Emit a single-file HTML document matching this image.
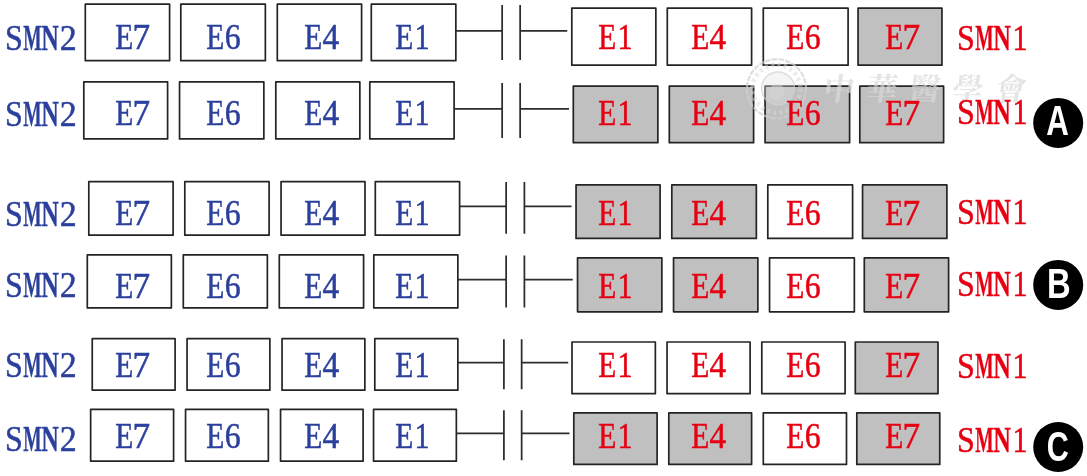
<!DOCTYPE html>
<html lang="zh">
<head>
<meta charset="utf-8">
<title>SMN1 / SMN2</title>
<style>
html,body{margin:0;padding:0;background:#fff;}
body{width:1087px;height:476px;overflow:hidden;}
svg{display:block;will-change:transform;}
.t{font-family:"Liberation Serif","Noto Serif CJK SC",serif;font-size:35.4px;}
.c{font-family:"Liberation Sans","Noto Sans CJK SC",sans-serif;font-weight:bold;font-size:42px;fill:#fff;}
.wm{font-family:"Noto Serif CJK TC","Noto Serif CJK SC","Liberation Serif",serif;font-weight:700;}
</style>
</head>
<body>
<svg width="1087" height="476" viewBox="0 0 1087 476">
<rect x="0" y="0" width="1087" height="476" fill="#fff"/>
<g><!-- row 1 boxes -->
<rect x="85.30" y="4.20" width="84.30" height="56.50" fill="#fff" stroke="#242424" stroke-width="1.7" stroke-linejoin="round"/>
<rect x="180.80" y="4.20" width="84.55" height="56.50" fill="#fff" stroke="#242424" stroke-width="1.7" stroke-linejoin="round"/>
<rect x="277.30" y="4.20" width="84.30" height="56.50" fill="#fff" stroke="#242424" stroke-width="1.7" stroke-linejoin="round"/>
<rect x="371.30" y="4.20" width="84.55" height="56.50" fill="#fff" stroke="#242424" stroke-width="1.7" stroke-linejoin="round"/>
<rect x="571.80" y="8.20" width="84.05" height="57.00" fill="#fff" stroke="#242424" stroke-width="1.7" stroke-linejoin="round"/>
<rect x="667.30" y="8.20" width="84.30" height="57.00" fill="#fff" stroke="#242424" stroke-width="1.7" stroke-linejoin="round"/>
<rect x="763.30" y="8.20" width="84.80" height="57.00" fill="#fff" stroke="#242424" stroke-width="1.7" stroke-linejoin="round"/>
<rect x="858.05" y="8.20" width="83.90" height="57.00" fill="#c0c0c0" stroke="#242424" stroke-width="1.7" stroke-linejoin="round"/>
<path d="M455.85 30.80H502.15M502.15 5V60M520.15 5V60M520.15 30.80H567.25" fill="none" stroke="#2c2c2c" stroke-width="1.75"/>
</g>
<g><!-- row 2 boxes -->
<rect x="83.80" y="81.95" width="83.80" height="57.00" fill="#fff" stroke="#242424" stroke-width="1.7" stroke-linejoin="round"/>
<rect x="179.55" y="81.95" width="84.30" height="57.00" fill="#fff" stroke="#242424" stroke-width="1.7" stroke-linejoin="round"/>
<rect x="275.80" y="81.95" width="84.05" height="57.00" fill="#fff" stroke="#242424" stroke-width="1.7" stroke-linejoin="round"/>
<rect x="369.80" y="81.95" width="84.30" height="57.00" fill="#fff" stroke="#242424" stroke-width="1.7" stroke-linejoin="round"/>
<rect x="573.30" y="86.20" width="84.55" height="56.50" fill="#c0c0c0" stroke="#242424" stroke-width="1.7" stroke-linejoin="round"/>
<rect x="669.30" y="86.20" width="84.30" height="56.50" fill="#c0c0c0" stroke="#242424" stroke-width="1.7" stroke-linejoin="round"/>
<rect x="765.05" y="86.20" width="84.55" height="56.50" fill="#c0c0c0" stroke="#242424" stroke-width="1.7" stroke-linejoin="round"/>
<rect x="859.80" y="86.20" width="83.80" height="56.50" fill="#c0c0c0" stroke="#242424" stroke-width="1.7" stroke-linejoin="round"/>
<path d="M454.10 108.80H502.15M502.15 83V138M520.15 83V138M520.15 108.80H569" fill="none" stroke="#2c2c2c" stroke-width="1.75"/>
</g>
<g><!-- row 3 boxes -->
<rect x="88.80" y="181.70" width="84.30" height="53.50" fill="#fff" stroke="#242424" stroke-width="1.7" stroke-linejoin="round"/>
<rect x="184.80" y="181.70" width="84.30" height="53.50" fill="#fff" stroke="#242424" stroke-width="1.7" stroke-linejoin="round"/>
<rect x="281.05" y="181.70" width="83.95" height="53.50" fill="#fff" stroke="#242424" stroke-width="1.7" stroke-linejoin="round"/>
<rect x="375.30" y="181.70" width="84.30" height="53.50" fill="#fff" stroke="#242424" stroke-width="1.7" stroke-linejoin="round"/>
<rect x="576.05" y="184.95" width="84.05" height="53.50" fill="#c0c0c0" stroke="#242424" stroke-width="1.7" stroke-linejoin="round"/>
<rect x="671.80" y="184.95" width="84.55" height="53.50" fill="#c0c0c0" stroke="#242424" stroke-width="1.7" stroke-linejoin="round"/>
<rect x="767.80" y="184.95" width="84.80" height="53.50" fill="#fff" stroke="#242424" stroke-width="1.7" stroke-linejoin="round"/>
<rect x="862.55" y="184.95" width="84.35" height="53.50" fill="#c0c0c0" stroke="#242424" stroke-width="1.7" stroke-linejoin="round"/>
<path d="M459.60 206.45H506.15M506.15 182V233.75M524.40 182V233.75M524.40 206.45H571.5" fill="none" stroke="#2c2c2c" stroke-width="1.75"/>
</g>
<g><!-- row 4 boxes -->
<rect x="87.30" y="254.95" width="84.05" height="53.00" fill="#fff" stroke="#242424" stroke-width="1.7" stroke-linejoin="round"/>
<rect x="183.30" y="254.95" width="84.05" height="53.00" fill="#fff" stroke="#242424" stroke-width="1.7" stroke-linejoin="round"/>
<rect x="279.30" y="254.95" width="84.30" height="53.00" fill="#fff" stroke="#242424" stroke-width="1.7" stroke-linejoin="round"/>
<rect x="373.80" y="254.95" width="84.05" height="53.00" fill="#fff" stroke="#242424" stroke-width="1.7" stroke-linejoin="round"/>
<rect x="577.55" y="257.95" width="84.30" height="53.85" fill="#c0c0c0" stroke="#242424" stroke-width="1.7" stroke-linejoin="round"/>
<rect x="673.55" y="257.95" width="84.30" height="53.85" fill="#c0c0c0" stroke="#242424" stroke-width="1.7" stroke-linejoin="round"/>
<rect x="769.55" y="257.95" width="84.80" height="53.85" fill="#fff" stroke="#242424" stroke-width="1.7" stroke-linejoin="round"/>
<rect x="864.30" y="257.95" width="84.30" height="53.85" fill="#c0c0c0" stroke="#242424" stroke-width="1.7" stroke-linejoin="round"/>
<path d="M457.85 279.55H506.15M506.15 255.5V307.5M524.40 255.5V307.5M524.40 279.55H572.75" fill="none" stroke="#2c2c2c" stroke-width="1.75"/>
</g>
<g><!-- row 5 boxes -->
<rect x="92.25" y="338.70" width="82.85" height="51.50" fill="#fff" stroke="#242424" stroke-width="1.7" stroke-linejoin="round"/>
<rect x="187.05" y="338.70" width="82.80" height="51.50" fill="#fff" stroke="#242424" stroke-width="1.7" stroke-linejoin="round"/>
<rect x="282.05" y="338.70" width="82.80" height="51.50" fill="#fff" stroke="#242424" stroke-width="1.7" stroke-linejoin="round"/>
<rect x="374.80" y="338.70" width="83.05" height="51.50" fill="#fff" stroke="#242424" stroke-width="1.7" stroke-linejoin="round"/>
<rect x="572.00" y="342.00" width="83.35" height="51.70" fill="#fff" stroke="#242424" stroke-width="1.7" stroke-linejoin="round"/>
<rect x="667.05" y="342.00" width="83.05" height="51.70" fill="#fff" stroke="#242424" stroke-width="1.7" stroke-linejoin="round"/>
<rect x="761.80" y="342.00" width="83.30" height="51.70" fill="#fff" stroke="#242424" stroke-width="1.7" stroke-linejoin="round"/>
<rect x="855.30" y="342.00" width="82.70" height="51.70" fill="#c0c0c0" stroke="#242424" stroke-width="1.7" stroke-linejoin="round"/>
<path d="M457.85 362.60H503.90M503.90 339.25V389.25M521.65 339.25V389.25M521.65 362.60H568.25" fill="none" stroke="#2c2c2c" stroke-width="1.75"/>
</g>
<g><!-- row 6 boxes -->
<rect x="90.65" y="409.45" width="82.95" height="51.75" fill="#fff" stroke="#242424" stroke-width="1.7" stroke-linejoin="round"/>
<rect x="185.55" y="409.45" width="82.80" height="51.75" fill="#fff" stroke="#242424" stroke-width="1.7" stroke-linejoin="round"/>
<rect x="280.55" y="409.45" width="82.55" height="51.75" fill="#fff" stroke="#242424" stroke-width="1.7" stroke-linejoin="round"/>
<rect x="373.55" y="409.45" width="82.80" height="51.75" fill="#fff" stroke="#242424" stroke-width="1.7" stroke-linejoin="round"/>
<rect x="573.80" y="412.95" width="83.30" height="51.50" fill="#c0c0c0" stroke="#242424" stroke-width="1.7" stroke-linejoin="round"/>
<rect x="668.80" y="412.95" width="82.80" height="51.50" fill="#c0c0c0" stroke="#242424" stroke-width="1.7" stroke-linejoin="round"/>
<rect x="763.30" y="412.95" width="83.20" height="51.50" fill="#fff" stroke="#242424" stroke-width="1.7" stroke-linejoin="round"/>
<rect x="856.80" y="412.95" width="82.95" height="51.50" fill="#c0c0c0" stroke="#242424" stroke-width="1.7" stroke-linejoin="round"/>
<path d="M456.35 433.45H503.90M503.90 410.25V460.25M521.65 410.25V460.25M521.65 433.45H569.5" fill="none" stroke="#2c2c2c" stroke-width="1.75"/>
</g>
<g class="wm" fill="#dadada" fill-opacity="0.7">
<circle cx="776.5" cy="88.7" r="29.5" fill="none" stroke="#d0d0d0" stroke-opacity="0.7" stroke-width="2.2" stroke-dasharray="5.5 1.2"/>
<circle cx="776.5" cy="88.7" r="24" fill="none" stroke="#d8d8d8" stroke-opacity="0.5" stroke-width="4.5" stroke-dasharray="3 3.3"/>
<circle cx="778" cy="88.5" r="16.5" fill="#e2e2e2" fill-opacity="0.35" stroke="#d0d0d0" stroke-opacity="0.7" stroke-width="1.3"/>
<circle cx="777" cy="92" r="8" fill="#d6d6d6" fill-opacity="0.5"/>
<text x="823" y="100.5" transform="translate(13.2 0) skewX(-8)" letter-spacing="12" font-size="31">中華醫學會</text>
</g>
<g class="t"><!-- row 1 labels -->
<text y="50.00" fill="#2b409c" stroke="#2b409c" stroke-width="0.5"><tspan x="4.90" textLength="17.83" lengthAdjust="spacingAndGlyphs">S</tspan><tspan x="23.22" textLength="18.39" lengthAdjust="spacingAndGlyphs" font-weight="bold" stroke-width="0.3">M</tspan><tspan x="41.19" textLength="17.58" lengthAdjust="spacingAndGlyphs" font-weight="bold" stroke-width="0.3">N</tspan><tspan x="59.76" textLength="16.96" lengthAdjust="spacingAndGlyphs">2</tspan></text>
<text y="49.00" fill="#2b409c" stroke="#2b409c" stroke-width="0.5"><tspan x="115.30" textLength="18.02" lengthAdjust="spacingAndGlyphs">E</tspan><tspan x="132.42" textLength="17.64" lengthAdjust="spacingAndGlyphs">7</tspan></text>
<text y="49.00" fill="#2b409c" stroke="#2b409c" stroke-width="0.5"><tspan x="206.30" textLength="18.02" lengthAdjust="spacingAndGlyphs">E</tspan><tspan x="224.78" textLength="15.92" lengthAdjust="spacingAndGlyphs">6</tspan></text>
<text y="49.00" fill="#2b409c" stroke="#2b409c" stroke-width="0.5"><tspan x="304.30" textLength="18.02" lengthAdjust="spacingAndGlyphs">E</tspan><tspan x="322.50" textLength="16.67" lengthAdjust="spacingAndGlyphs">4</tspan></text>
<text y="49.00" fill="#2b409c" stroke="#2b409c" stroke-width="0.5"><tspan x="395.30" textLength="18.02" lengthAdjust="spacingAndGlyphs">E</tspan><tspan x="414.60" textLength="15.05" lengthAdjust="spacingAndGlyphs">1</tspan></text>
<text y="49.00" fill="#e60012" stroke="#e60012" stroke-width="0.5"><tspan x="598.30" textLength="18.02" lengthAdjust="spacingAndGlyphs">E</tspan><tspan x="617.60" textLength="15.05" lengthAdjust="spacingAndGlyphs">1</tspan></text>
<text y="49.00" fill="#e60012" stroke="#e60012" stroke-width="0.5"><tspan x="691.30" textLength="18.02" lengthAdjust="spacingAndGlyphs">E</tspan><tspan x="709.50" textLength="16.67" lengthAdjust="spacingAndGlyphs">4</tspan></text>
<text y="49.00" fill="#e60012" stroke="#e60012" stroke-width="0.5"><tspan x="786.30" textLength="18.02" lengthAdjust="spacingAndGlyphs">E</tspan><tspan x="804.78" textLength="15.92" lengthAdjust="spacingAndGlyphs">6</tspan></text>
<text y="49.00" fill="#e60012" stroke="#e60012" stroke-width="0.5"><tspan x="885.30" textLength="18.02" lengthAdjust="spacingAndGlyphs">E</tspan><tspan x="902.42" textLength="17.64" lengthAdjust="spacingAndGlyphs">7</tspan></text>
<text y="50.00" fill="#e60012" stroke="#e60012" stroke-width="0.5"><tspan x="956.90" textLength="17.83" lengthAdjust="spacingAndGlyphs">S</tspan><tspan x="975.22" textLength="18.39" lengthAdjust="spacingAndGlyphs" font-weight="bold" stroke-width="0.3">M</tspan><tspan x="993.19" textLength="17.58" lengthAdjust="spacingAndGlyphs" font-weight="bold" stroke-width="0.3">N</tspan><tspan x="1012.60" textLength="15.05" lengthAdjust="spacingAndGlyphs">1</tspan></text>
</g>
<g class="t"><!-- row 2 labels -->
<text y="126.00" fill="#2b409c" stroke="#2b409c" stroke-width="0.5"><tspan x="4.90" textLength="17.83" lengthAdjust="spacingAndGlyphs">S</tspan><tspan x="23.22" textLength="18.39" lengthAdjust="spacingAndGlyphs" font-weight="bold" stroke-width="0.3">M</tspan><tspan x="41.19" textLength="17.58" lengthAdjust="spacingAndGlyphs" font-weight="bold" stroke-width="0.3">N</tspan><tspan x="59.76" textLength="16.96" lengthAdjust="spacingAndGlyphs">2</tspan></text>
<text y="125.00" fill="#2b409c" stroke="#2b409c" stroke-width="0.5"><tspan x="115.30" textLength="18.02" lengthAdjust="spacingAndGlyphs">E</tspan><tspan x="132.42" textLength="17.64" lengthAdjust="spacingAndGlyphs">7</tspan></text>
<text y="125.00" fill="#2b409c" stroke="#2b409c" stroke-width="0.5"><tspan x="206.30" textLength="18.02" lengthAdjust="spacingAndGlyphs">E</tspan><tspan x="224.78" textLength="15.92" lengthAdjust="spacingAndGlyphs">6</tspan></text>
<text y="125.00" fill="#2b409c" stroke="#2b409c" stroke-width="0.5"><tspan x="304.30" textLength="18.02" lengthAdjust="spacingAndGlyphs">E</tspan><tspan x="322.50" textLength="16.67" lengthAdjust="spacingAndGlyphs">4</tspan></text>
<text y="125.00" fill="#2b409c" stroke="#2b409c" stroke-width="0.5"><tspan x="395.30" textLength="18.02" lengthAdjust="spacingAndGlyphs">E</tspan><tspan x="414.60" textLength="15.05" lengthAdjust="spacingAndGlyphs">1</tspan></text>
<text y="125.00" fill="#e60012" stroke="#e60012" stroke-width="0.5"><tspan x="598.30" textLength="18.02" lengthAdjust="spacingAndGlyphs">E</tspan><tspan x="617.60" textLength="15.05" lengthAdjust="spacingAndGlyphs">1</tspan></text>
<text y="125.00" fill="#e60012" stroke="#e60012" stroke-width="0.5"><tspan x="691.30" textLength="18.02" lengthAdjust="spacingAndGlyphs">E</tspan><tspan x="709.50" textLength="16.67" lengthAdjust="spacingAndGlyphs">4</tspan></text>
<text y="125.00" fill="#e60012" stroke="#e60012" stroke-width="0.5"><tspan x="786.30" textLength="18.02" lengthAdjust="spacingAndGlyphs">E</tspan><tspan x="804.78" textLength="15.92" lengthAdjust="spacingAndGlyphs">6</tspan></text>
<text y="125.00" fill="#e60012" stroke="#e60012" stroke-width="0.5"><tspan x="885.30" textLength="18.02" lengthAdjust="spacingAndGlyphs">E</tspan><tspan x="902.42" textLength="17.64" lengthAdjust="spacingAndGlyphs">7</tspan></text>
<text y="124.00" fill="#e60012" stroke="#e60012" stroke-width="0.5"><tspan x="956.90" textLength="17.83" lengthAdjust="spacingAndGlyphs">S</tspan><tspan x="975.22" textLength="18.39" lengthAdjust="spacingAndGlyphs" font-weight="bold" stroke-width="0.3">M</tspan><tspan x="993.19" textLength="17.58" lengthAdjust="spacingAndGlyphs" font-weight="bold" stroke-width="0.3">N</tspan><tspan x="1012.60" textLength="15.05" lengthAdjust="spacingAndGlyphs">1</tspan></text>
</g>
<g class="t"><!-- row 3 labels -->
<text y="226.00" fill="#2b409c" stroke="#2b409c" stroke-width="0.5"><tspan x="4.90" textLength="17.83" lengthAdjust="spacingAndGlyphs">S</tspan><tspan x="23.22" textLength="18.39" lengthAdjust="spacingAndGlyphs" font-weight="bold" stroke-width="0.3">M</tspan><tspan x="41.19" textLength="17.58" lengthAdjust="spacingAndGlyphs" font-weight="bold" stroke-width="0.3">N</tspan><tspan x="59.76" textLength="16.96" lengthAdjust="spacingAndGlyphs">2</tspan></text>
<text y="225.00" fill="#2b409c" stroke="#2b409c" stroke-width="0.5"><tspan x="115.30" textLength="18.02" lengthAdjust="spacingAndGlyphs">E</tspan><tspan x="132.42" textLength="17.64" lengthAdjust="spacingAndGlyphs">7</tspan></text>
<text y="225.00" fill="#2b409c" stroke="#2b409c" stroke-width="0.5"><tspan x="206.30" textLength="18.02" lengthAdjust="spacingAndGlyphs">E</tspan><tspan x="224.78" textLength="15.92" lengthAdjust="spacingAndGlyphs">6</tspan></text>
<text y="225.00" fill="#2b409c" stroke="#2b409c" stroke-width="0.5"><tspan x="304.30" textLength="18.02" lengthAdjust="spacingAndGlyphs">E</tspan><tspan x="322.50" textLength="16.67" lengthAdjust="spacingAndGlyphs">4</tspan></text>
<text y="225.00" fill="#2b409c" stroke="#2b409c" stroke-width="0.5"><tspan x="395.30" textLength="18.02" lengthAdjust="spacingAndGlyphs">E</tspan><tspan x="414.60" textLength="15.05" lengthAdjust="spacingAndGlyphs">1</tspan></text>
<text y="225.00" fill="#e60012" stroke="#e60012" stroke-width="0.5"><tspan x="598.30" textLength="18.02" lengthAdjust="spacingAndGlyphs">E</tspan><tspan x="617.60" textLength="15.05" lengthAdjust="spacingAndGlyphs">1</tspan></text>
<text y="225.00" fill="#e60012" stroke="#e60012" stroke-width="0.5"><tspan x="691.30" textLength="18.02" lengthAdjust="spacingAndGlyphs">E</tspan><tspan x="709.50" textLength="16.67" lengthAdjust="spacingAndGlyphs">4</tspan></text>
<text y="225.00" fill="#e60012" stroke="#e60012" stroke-width="0.5"><tspan x="786.30" textLength="18.02" lengthAdjust="spacingAndGlyphs">E</tspan><tspan x="804.78" textLength="15.92" lengthAdjust="spacingAndGlyphs">6</tspan></text>
<text y="225.00" fill="#e60012" stroke="#e60012" stroke-width="0.5"><tspan x="885.30" textLength="18.02" lengthAdjust="spacingAndGlyphs">E</tspan><tspan x="902.42" textLength="17.64" lengthAdjust="spacingAndGlyphs">7</tspan></text>
<text y="224.00" fill="#e60012" stroke="#e60012" stroke-width="0.5"><tspan x="956.90" textLength="17.83" lengthAdjust="spacingAndGlyphs">S</tspan><tspan x="975.22" textLength="18.39" lengthAdjust="spacingAndGlyphs" font-weight="bold" stroke-width="0.3">M</tspan><tspan x="993.19" textLength="17.58" lengthAdjust="spacingAndGlyphs" font-weight="bold" stroke-width="0.3">N</tspan><tspan x="1012.60" textLength="15.05" lengthAdjust="spacingAndGlyphs">1</tspan></text>
</g>
<g class="t"><!-- row 4 labels -->
<text y="297.00" fill="#2b409c" stroke="#2b409c" stroke-width="0.5"><tspan x="4.90" textLength="17.83" lengthAdjust="spacingAndGlyphs">S</tspan><tspan x="23.22" textLength="18.39" lengthAdjust="spacingAndGlyphs" font-weight="bold" stroke-width="0.3">M</tspan><tspan x="41.19" textLength="17.58" lengthAdjust="spacingAndGlyphs" font-weight="bold" stroke-width="0.3">N</tspan><tspan x="59.76" textLength="16.96" lengthAdjust="spacingAndGlyphs">2</tspan></text>
<text y="298.00" fill="#2b409c" stroke="#2b409c" stroke-width="0.5"><tspan x="115.30" textLength="18.02" lengthAdjust="spacingAndGlyphs">E</tspan><tspan x="132.42" textLength="17.64" lengthAdjust="spacingAndGlyphs">7</tspan></text>
<text y="298.00" fill="#2b409c" stroke="#2b409c" stroke-width="0.5"><tspan x="206.30" textLength="18.02" lengthAdjust="spacingAndGlyphs">E</tspan><tspan x="224.78" textLength="15.92" lengthAdjust="spacingAndGlyphs">6</tspan></text>
<text y="298.00" fill="#2b409c" stroke="#2b409c" stroke-width="0.5"><tspan x="304.30" textLength="18.02" lengthAdjust="spacingAndGlyphs">E</tspan><tspan x="322.50" textLength="16.67" lengthAdjust="spacingAndGlyphs">4</tspan></text>
<text y="298.00" fill="#2b409c" stroke="#2b409c" stroke-width="0.5"><tspan x="395.30" textLength="18.02" lengthAdjust="spacingAndGlyphs">E</tspan><tspan x="414.60" textLength="15.05" lengthAdjust="spacingAndGlyphs">1</tspan></text>
<text y="298.00" fill="#e60012" stroke="#e60012" stroke-width="0.5"><tspan x="598.30" textLength="18.02" lengthAdjust="spacingAndGlyphs">E</tspan><tspan x="617.60" textLength="15.05" lengthAdjust="spacingAndGlyphs">1</tspan></text>
<text y="298.00" fill="#e60012" stroke="#e60012" stroke-width="0.5"><tspan x="691.30" textLength="18.02" lengthAdjust="spacingAndGlyphs">E</tspan><tspan x="709.50" textLength="16.67" lengthAdjust="spacingAndGlyphs">4</tspan></text>
<text y="298.00" fill="#e60012" stroke="#e60012" stroke-width="0.5"><tspan x="786.30" textLength="18.02" lengthAdjust="spacingAndGlyphs">E</tspan><tspan x="804.78" textLength="15.92" lengthAdjust="spacingAndGlyphs">6</tspan></text>
<text y="298.00" fill="#e60012" stroke="#e60012" stroke-width="0.5"><tspan x="885.30" textLength="18.02" lengthAdjust="spacingAndGlyphs">E</tspan><tspan x="902.42" textLength="17.64" lengthAdjust="spacingAndGlyphs">7</tspan></text>
<text y="296.00" fill="#e60012" stroke="#e60012" stroke-width="0.5"><tspan x="956.90" textLength="17.83" lengthAdjust="spacingAndGlyphs">S</tspan><tspan x="975.22" textLength="18.39" lengthAdjust="spacingAndGlyphs" font-weight="bold" stroke-width="0.3">M</tspan><tspan x="993.19" textLength="17.58" lengthAdjust="spacingAndGlyphs" font-weight="bold" stroke-width="0.3">N</tspan><tspan x="1012.60" textLength="15.05" lengthAdjust="spacingAndGlyphs">1</tspan></text>
</g>
<g class="t"><!-- row 5 labels -->
<text y="377.00" fill="#2b409c" stroke="#2b409c" stroke-width="0.5"><tspan x="4.90" textLength="17.83" lengthAdjust="spacingAndGlyphs">S</tspan><tspan x="23.22" textLength="18.39" lengthAdjust="spacingAndGlyphs" font-weight="bold" stroke-width="0.3">M</tspan><tspan x="41.19" textLength="17.58" lengthAdjust="spacingAndGlyphs" font-weight="bold" stroke-width="0.3">N</tspan><tspan x="59.76" textLength="16.96" lengthAdjust="spacingAndGlyphs">2</tspan></text>
<text y="377.00" fill="#2b409c" stroke="#2b409c" stroke-width="0.5"><tspan x="115.30" textLength="18.02" lengthAdjust="spacingAndGlyphs">E</tspan><tspan x="132.42" textLength="17.64" lengthAdjust="spacingAndGlyphs">7</tspan></text>
<text y="377.00" fill="#2b409c" stroke="#2b409c" stroke-width="0.5"><tspan x="206.30" textLength="18.02" lengthAdjust="spacingAndGlyphs">E</tspan><tspan x="224.78" textLength="15.92" lengthAdjust="spacingAndGlyphs">6</tspan></text>
<text y="377.00" fill="#2b409c" stroke="#2b409c" stroke-width="0.5"><tspan x="304.30" textLength="18.02" lengthAdjust="spacingAndGlyphs">E</tspan><tspan x="322.50" textLength="16.67" lengthAdjust="spacingAndGlyphs">4</tspan></text>
<text y="377.00" fill="#2b409c" stroke="#2b409c" stroke-width="0.5"><tspan x="395.30" textLength="18.02" lengthAdjust="spacingAndGlyphs">E</tspan><tspan x="414.60" textLength="15.05" lengthAdjust="spacingAndGlyphs">1</tspan></text>
<text y="377.00" fill="#e60012" stroke="#e60012" stroke-width="0.5"><tspan x="598.30" textLength="18.02" lengthAdjust="spacingAndGlyphs">E</tspan><tspan x="617.60" textLength="15.05" lengthAdjust="spacingAndGlyphs">1</tspan></text>
<text y="377.00" fill="#e60012" stroke="#e60012" stroke-width="0.5"><tspan x="691.30" textLength="18.02" lengthAdjust="spacingAndGlyphs">E</tspan><tspan x="709.50" textLength="16.67" lengthAdjust="spacingAndGlyphs">4</tspan></text>
<text y="377.00" fill="#e60012" stroke="#e60012" stroke-width="0.5"><tspan x="786.30" textLength="18.02" lengthAdjust="spacingAndGlyphs">E</tspan><tspan x="804.78" textLength="15.92" lengthAdjust="spacingAndGlyphs">6</tspan></text>
<text y="377.00" fill="#e60012" stroke="#e60012" stroke-width="0.5"><tspan x="885.30" textLength="18.02" lengthAdjust="spacingAndGlyphs">E</tspan><tspan x="902.42" textLength="17.64" lengthAdjust="spacingAndGlyphs">7</tspan></text>
<text y="378.00" fill="#e60012" stroke="#e60012" stroke-width="0.5"><tspan x="956.90" textLength="17.83" lengthAdjust="spacingAndGlyphs">S</tspan><tspan x="975.22" textLength="18.39" lengthAdjust="spacingAndGlyphs" font-weight="bold" stroke-width="0.3">M</tspan><tspan x="993.19" textLength="17.58" lengthAdjust="spacingAndGlyphs" font-weight="bold" stroke-width="0.3">N</tspan><tspan x="1012.60" textLength="15.05" lengthAdjust="spacingAndGlyphs">1</tspan></text>
</g>
<g class="t"><!-- row 6 labels -->
<text y="451.00" fill="#2b409c" stroke="#2b409c" stroke-width="0.5"><tspan x="4.90" textLength="17.83" lengthAdjust="spacingAndGlyphs">S</tspan><tspan x="23.22" textLength="18.39" lengthAdjust="spacingAndGlyphs" font-weight="bold" stroke-width="0.3">M</tspan><tspan x="41.19" textLength="17.58" lengthAdjust="spacingAndGlyphs" font-weight="bold" stroke-width="0.3">N</tspan><tspan x="59.76" textLength="16.96" lengthAdjust="spacingAndGlyphs">2</tspan></text>
<text y="448.00" fill="#2b409c" stroke="#2b409c" stroke-width="0.5"><tspan x="115.30" textLength="18.02" lengthAdjust="spacingAndGlyphs">E</tspan><tspan x="132.42" textLength="17.64" lengthAdjust="spacingAndGlyphs">7</tspan></text>
<text y="448.00" fill="#2b409c" stroke="#2b409c" stroke-width="0.5"><tspan x="206.30" textLength="18.02" lengthAdjust="spacingAndGlyphs">E</tspan><tspan x="224.78" textLength="15.92" lengthAdjust="spacingAndGlyphs">6</tspan></text>
<text y="448.00" fill="#2b409c" stroke="#2b409c" stroke-width="0.5"><tspan x="304.30" textLength="18.02" lengthAdjust="spacingAndGlyphs">E</tspan><tspan x="322.50" textLength="16.67" lengthAdjust="spacingAndGlyphs">4</tspan></text>
<text y="448.00" fill="#2b409c" stroke="#2b409c" stroke-width="0.5"><tspan x="395.30" textLength="18.02" lengthAdjust="spacingAndGlyphs">E</tspan><tspan x="414.60" textLength="15.05" lengthAdjust="spacingAndGlyphs">1</tspan></text>
<text y="448.00" fill="#e60012" stroke="#e60012" stroke-width="0.5"><tspan x="598.30" textLength="18.02" lengthAdjust="spacingAndGlyphs">E</tspan><tspan x="617.60" textLength="15.05" lengthAdjust="spacingAndGlyphs">1</tspan></text>
<text y="448.00" fill="#e60012" stroke="#e60012" stroke-width="0.5"><tspan x="691.30" textLength="18.02" lengthAdjust="spacingAndGlyphs">E</tspan><tspan x="709.50" textLength="16.67" lengthAdjust="spacingAndGlyphs">4</tspan></text>
<text y="448.00" fill="#e60012" stroke="#e60012" stroke-width="0.5"><tspan x="786.30" textLength="18.02" lengthAdjust="spacingAndGlyphs">E</tspan><tspan x="804.78" textLength="15.92" lengthAdjust="spacingAndGlyphs">6</tspan></text>
<text y="448.00" fill="#e60012" stroke="#e60012" stroke-width="0.5"><tspan x="885.30" textLength="18.02" lengthAdjust="spacingAndGlyphs">E</tspan><tspan x="902.42" textLength="17.64" lengthAdjust="spacingAndGlyphs">7</tspan></text>
<text y="452.00" fill="#e60012" stroke="#e60012" stroke-width="0.5"><tspan x="956.90" textLength="17.83" lengthAdjust="spacingAndGlyphs">S</tspan><tspan x="975.22" textLength="18.39" lengthAdjust="spacingAndGlyphs" font-weight="bold" stroke-width="0.3">M</tspan><tspan x="993.19" textLength="17.58" lengthAdjust="spacingAndGlyphs" font-weight="bold" stroke-width="0.3">N</tspan><tspan x="1012.60" textLength="15.05" lengthAdjust="spacingAndGlyphs">1</tspan></text>
</g>
<circle cx="1058.2" cy="122.9" r="25" fill="#000"/>
<text class="c" y="134.6"><tspan x="1046.22" textLength="22.60" lengthAdjust="spacingAndGlyphs">A</tspan></text>
<circle cx="1058.2" cy="284.9" r="25" fill="#000"/>
<text class="c" y="297.6"><tspan x="1046.91" textLength="23.68" lengthAdjust="spacingAndGlyphs">B</tspan></text>
<circle cx="1058.2" cy="447.0" r="25" fill="#000"/>
<text class="c" y="461.2"><tspan x="1046.75" textLength="22.09" lengthAdjust="spacingAndGlyphs">C</tspan></text>
</svg>
</body>
</html>
